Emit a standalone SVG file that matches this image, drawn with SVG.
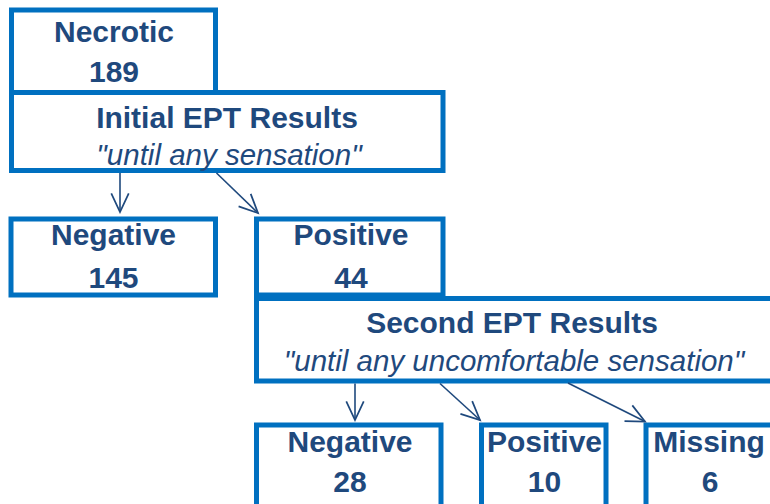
<svg xmlns="http://www.w3.org/2000/svg" width="770" height="504" viewBox="0 0 770 504">
<style>
.box{fill:#fff;stroke:#0070C0;stroke-width:5}
.t{font-family:"Liberation Sans",Arial,sans-serif;font-size:30px;font-weight:bold;fill:#1F497D;text-anchor:middle}
.i{font-family:"Liberation Sans",Arial,sans-serif;font-size:29.5px;font-style:italic;fill:#1F497D;text-anchor:middle}
.c{stroke:#1F497D;stroke-width:1.6;fill:none;marker-end:url(#ah)}
</style>
<defs>
<marker id="ah" markerUnits="userSpaceOnUse" markerWidth="24" markerHeight="24" viewBox="-20 -10 22 20" refX="0" refY="0" orient="auto">
<path d="M-17,-8 L0,0 L-17,8" fill="none" stroke="#1F497D" stroke-width="1.6"/>
</marker>
</defs>
<rect width="770" height="504" fill="#fff"/>
<g id="necrotic">
<rect class="box" x="11.5" y="10" width="204" height="82.5"/>
<text class="t" x="114" y="42">Necrotic</text>
<text class="t" x="114" y="82">189</text>
</g>
<g id="initial">
<rect class="box" x="11.5" y="92.5" width="431.5" height="78"/>
<text class="t" x="227" y="128">Initial EPT Results</text>
<text class="i" x="229" y="165">"until any sensation"</text>
</g>
<g id="negative1">
<rect class="box" x="11" y="219" width="204.5" height="76"/>
<text class="t" x="113.5" y="245">Negative</text>
<text class="t" x="113.5" y="288">145</text>
</g>
<g id="positive1">
<rect class="box" x="256.5" y="219" width="186.5" height="76"/>
<text class="t" x="351" y="245">Positive</text>
<text class="t" x="351" y="288">44</text>
</g>
<g id="second">
<rect class="box" x="256.5" y="298.5" width="516" height="82.5"/>
<text class="t" x="512" y="333">Second EPT Results</text>
<text class="i" x="514" y="371">"until any uncomfortable sensation"</text>
</g>
<g id="negative2">
<rect class="box" x="256.5" y="425" width="184.5" height="90"/>
<text class="t" x="350" y="452">Negative</text>
<text class="t" x="350" y="492">28</text>
</g>
<g id="positive2">
<rect class="box" x="481.5" y="425" width="124.5" height="90"/>
<text class="t" x="544.5" y="452">Positive</text>
<text class="t" x="544.5" y="492">10</text>
</g>
<g id="missing">
<rect class="box" x="646" y="425" width="130" height="90"/>
<text class="t" x="709" y="452">Missing</text>
<text class="t" x="710" y="492">6</text>
</g>
<g id="connectors">
<line class="c" x1="120" y1="173" x2="120" y2="212"/>
<line class="c" x1="216.5" y1="173" x2="258" y2="213"/>
<line class="c" x1="355" y1="383.5" x2="355" y2="420"/>
<line class="c" x1="440" y1="383.5" x2="480" y2="420"/>
<line class="c" x1="568" y1="383" x2="645" y2="421.5"/>
</g>
</svg>
